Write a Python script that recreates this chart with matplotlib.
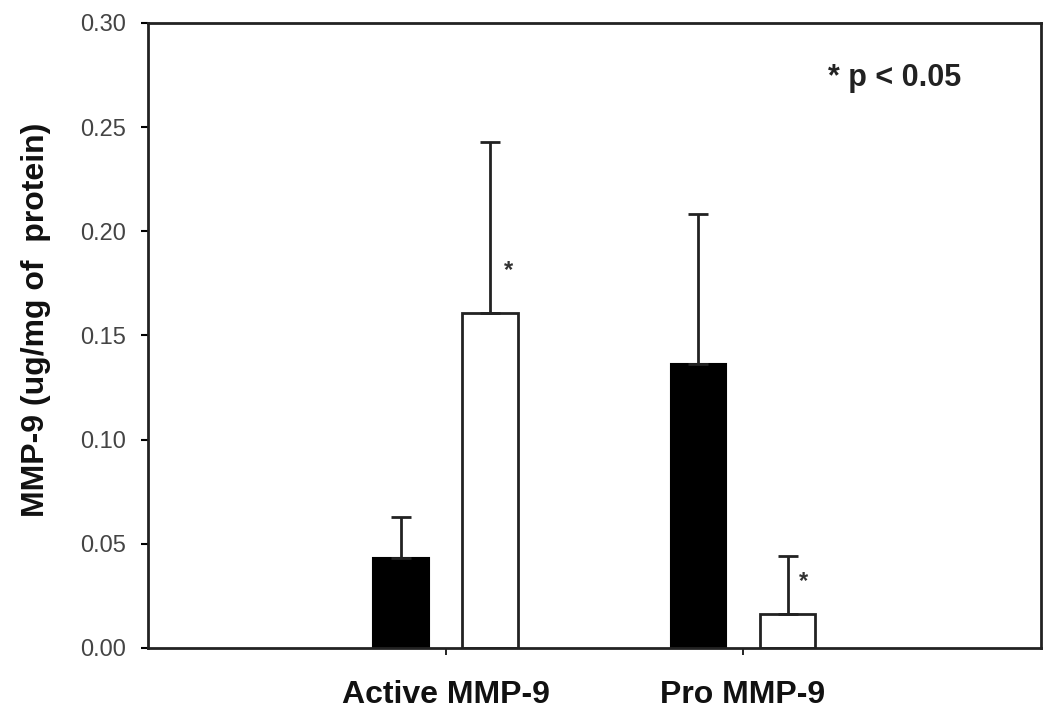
import numpy as np
import matplotlib.pyplot as plt

plt.rcParams['font.family'] = ['Liberation Sans', 'DejaVu Sans']

# donnees
groupes = ['Active MMP-9', 'Pro MMP-9']
noir = [0.043, 0.1365]
noir_err = [0.020, 0.072]
blanc = [0.161, 0.0165]
blanc_err = [0.082, 0.0275]

x = np.arange(len(groupes))
largeur = 0.187
decalage = 0.15

fig = plt.figure(figsize=(10.5, 7.18), dpi=100)
ax = fig.add_axes([0.141, 0.0975, 0.85, 0.8705])

ax.bar(x - decalage, noir, largeur, color='black', edgecolor='black', linewidth=1.5,
       yerr=[np.zeros(len(noir)), noir_err],
       error_kw=dict(ecolor='#222222', elinewidth=2, capsize=7.2, capthick=2))
ax.bar(x + decalage, blanc, largeur, color='white', edgecolor='#222222', linewidth=2,
       yerr=[np.zeros(len(blanc)), blanc_err],
       error_kw=dict(ecolor='#222222', elinewidth=2, capsize=7.2, capthick=2))

# etoiles de significativite
ax.text(0.21, 0.181, '*', fontsize=17, fontweight='bold', color='#333333',
        ha='center', va='center')
ax.text(1.204, 0.032, '*', fontsize=17, fontweight='bold', color='#333333',
        ha='center', va='center')

ax.text(0.836, 0.912, '* p < 0.05', transform=ax.transAxes, fontsize=22,
        fontweight='bold', color='#222222', ha='center', va='center')

ax.set_xlim(-1, 2)
ax.set_ylim(0, 0.30)
ax.set_yticks(np.arange(0, 0.31, 0.05))
ax.set_yticklabels(['%.2f' % v for v in np.arange(0, 0.31, 0.05)])
ax.set_xticks(x)
ax.set_xticklabels(groupes, fontsize=23, fontweight='bold', color='#111111')

ax.tick_params(axis='y', direction='out', length=5, width=1.5, labelsize=17,
               labelcolor='#444444', pad=11)
ax.tick_params(axis='x', direction='out', length=5, width=1.2, pad=18)

for s in ax.spines.values():
    s.set_linewidth(2)
    s.set_color('#222222')

ax.set_ylabel('MMP-9 (ug/mg of  protein)', fontsize=23, fontweight='bold',
              color='#111111')
ax.yaxis.set_label_coords(-0.109, 0.525)

plt.savefig('out.png', dpi=100)
